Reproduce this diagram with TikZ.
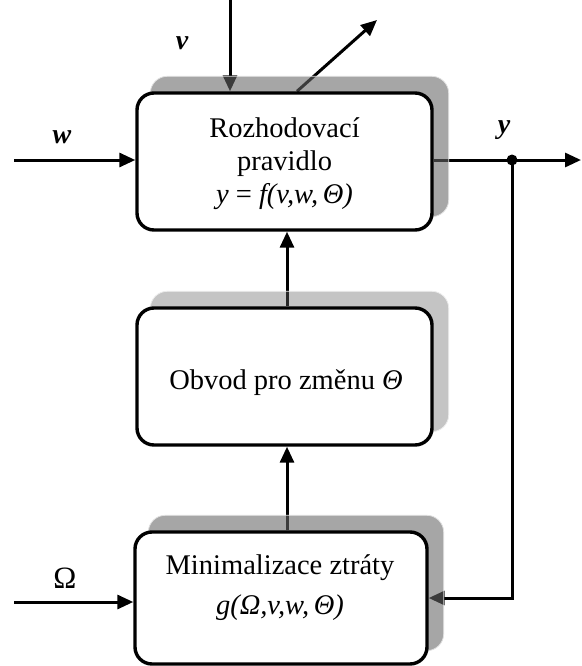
\documentclass[tikz,border=0pt]{standalone}
\usepackage{fontspec}
\setmainfont{Liberation Serif}
\usetikzlibrary{arrows.meta}
\pgfdeclarelayer{wires}
\pgfdeclarelayer{shades}
\pgfsetlayers{wires,shades,main}

\begin{document}
\begin{tikzpicture}[x=1pt,y=-1pt,
  block/.style={draw=black, line width=3.4pt, rounded corners=17pt, fill=white,
    minimum width=295pt, minimum height=137pt, inner sep=0pt},
  wire/.style={line width=3pt, -{Triangle[length=16pt,width=14pt]}},
  lbl/.style={font=\fontsize{28}{32}\selectfont\bfseries\itshape, anchor=base},
  boxtext/.style={font=\fontsize{28.5}{33}\selectfont, align=center},
  darkshade/.style={fill=black!60, fill opacity=0.58, draw=black!12,
    line width=0.8pt, rounded corners=17pt},
  lightshade/.style={fill=black!60, fill opacity=0.39, draw=black!8,
    line width=0.8pt, rounded corners=17pt}
]
\useasboundingbox (0,0) rectangle (581,666);

% the three blocks
\node[block] (rule) at (284.5,161.5) {};
\node[block] (change) at (284.5,376.5) {};
\node[block, minimum width=292pt, minimum height=132pt] (loss) at (281,598) {};

% block texts
\node[boxtext] (ruletext) at (284.5,163.5)
  {Rozhodovací\\pravidlo\\\textit{y} = \textit{f(v,w,\,Θ)}};
\node[boxtext] (changetext) at (286,382.5) {Obvod pro změnu \textit{Θ}};
\node[boxtext, font=\fontsize{28.5}{40}\selectfont] (losstext) at (280,588)
  {Minimalizace ztráty\\\textit{g(Ω,v,w,\,Θ)}};

% signal labels
\node[lbl] (vlab) at (182,50) {v};
\node[lbl] (wlab) at (62,143) {w};
\node[lbl] (ylab) at (504,133) {y};
\node[lbl, font=\fontsize{31}{34}\selectfont] (omegalab) at (65,588) {Ω};

% branch point on the output
\node[circle, fill=black, inner sep=0pt, minimum size=11pt] (tap) at (512,160) {};

% drop shadows behind the blocks
\begin{pgfonlayer}{shades}
  \path[darkshade] ([shift={(15pt,15pt)}]rule.south west)
    rectangle ([shift={(15pt,15pt)}]rule.north east);
  \path[lightshade] ([shift={(15pt,15pt)}]change.south west)
    rectangle ([shift={(15pt,15pt)}]change.north east);
  \path[darkshade] ([shift={(15pt,15pt)}]loss.south west)
    rectangle ([shift={(15pt,15pt)}]loss.north east);
\end{pgfonlayer}

% connectors
\begin{pgfonlayer}{wires}
  \coordinate (vin) at (230,0);
  \coordinate (vout) at (377,20);
  \coordinate (win) at (14,160);
  \coordinate (yout) at (581,160);
  \coordinate (omin) at (14,602);
  \coordinate (up1) at ([xshift=2.5pt]rule.south);
  \coordinate (up2) at ([xshift=2.5pt]change.south);

  \draw[wire] (vin) -- (vin |- rule.north);
  \draw[wire] ([xshift=12.5pt]rule.north) -- (vout);
  \draw[wire] (win) -- (win -| rule.west);
  \draw[wire] (rule.east |- yout) -- (yout);
  \draw[wire] (tap.center) |- (loss.east);
  \draw[wire] (change.north -| up1) -- (up1);
  \draw[wire] (loss.north -| up2) -- (up2);
  \draw[wire] (omin) -- (omin -| loss.west);
\end{pgfonlayer}
\end{tikzpicture}
\end{document}
